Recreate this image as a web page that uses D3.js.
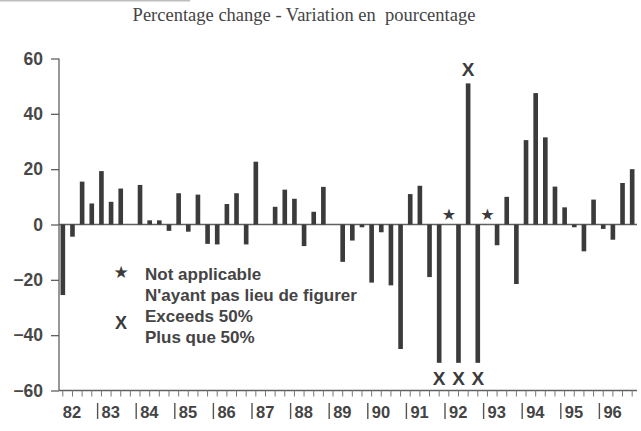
<!DOCTYPE html>
<html>
<head>
<meta charset="utf-8">
<script src="https://cdn.jsdelivr.net/npm/d3@7"></script>
<style>
  body { margin: 0; background: #fff; }
  svg { display: block; }
</style>
</head>
<body>
<svg id="chart" width="641" height="431"></svg>
<script>
// quarterly data 1982Q1 - 1996Q4
const years = ["82", "83", "84", "85", "86", "87", "88", "89", "90", "91", "92", "93", "94", "95", "96"];
const quarters = ["Q1", "Q2", "Q3", "Q4"];

// percentage change, null = not applicable
const values = [
  -25.5, -4.4, 15.5, 7.6,
  19.3, 8.2, 13, 0,
  14.3, 1.5, 1.5, -2.3,
  11.3, -2.6, 10.8, -7,
  -7.2, 7.4, 11.3, -7.2,
  22.7, 0, 6.4, 12.6,
  9.3, -7.8, 4.6, 13.6,
  0, -13.5, -5.8, -1,
  -21, -2.8, -22, -45,
  11, 14, -19, -50,
  null, -50, 51, -50,
  null, -7.5, 10, -21.5,
  30.5, 47.5, 31.5, 13.7,
  6.2, -1, -9.7, 9,
  -1.6, -5.5, 15, 20
];

// bars that exceed 50% (drawn capped, flagged with an X)
const exceeds = [false, false, false, false,
  false, false, false, false,
  false, false, false, false,
  false, false, false, false,
  false, false, false, false,
  false, false, false, false,
  false, false, false, false,
  false, false, false, false,
  false, false, false, false,
  false, false, false, true,
  false, true, true, true,
  false, false, false, false,
  false, false, false, false,
  false, false, false, false,
  false, false, false, false];

const yTicks = [60, 40, 20, 0, -20, -40, -60];

const titleText = "Percentage change - Variation en\u00a0 pourcentage";
const legendItems = [
  { sym: "\u2605", lines: ["Not applicable", "N'ayant pas lieu de figurer"] },
  { sym: "X", lines: ["Exceeds 50%", "Plus que 50%"] }
];

const data = [];
years.forEach((y, i) => quarters.forEach((q, j) => {
  const k = i * 4 + j;
  data.push({ key: y + q, year: y, q: j, value: values[k], over: exceeds[k] });
}));

const svg = d3.select("#chart");
const ink = "#3b3b3b";
const lineCol = "#606060";

const x = d3.scaleBand()
  .domain(data.map(d => d.key))
  .range([58, 637])
  .paddingInner(0.52)
  .paddingOuter(0.26);

const y = d3.scaleLinear()
  .domain([-60, 60])
  .range([390.5, 58.5]);

const left = 59;
const right = 637;

// scan edge artifact at the very top
svg.append("line")
  .attr("x1", 0).attr("x2", 190)
  .attr("y1", 0.5).attr("y2", 0.5)
  .attr("stroke", "#bdbdbd").attr("stroke-width", 2);

// title
svg.append("text")
  .attr("x", 304).attr("y", 21)
  .attr("text-anchor", "middle")
  .attr("font-family", "Liberation Serif, Times New Roman, serif")
  .attr("font-size", 18.5)
  .attr("fill", "#444")
  .text(titleText);

// y axis
const yAxis = d3.axisLeft(y).tickValues(yTicks).tickSize(8).tickPadding(8);
const gy = svg.append("g")
  .attr("transform", `translate(${left},0)`)
  .call(yAxis);
gy.select(".domain").attr("stroke", lineCol).attr("stroke-width", 1.3)
  .attr("d", `M0,${y(60)}V${y(-60)}`);
gy.selectAll(".tick line").attr("stroke", lineCol).attr("stroke-width", 1.3);
gy.selectAll(".tick text")
  .attr("font-family", "Liberation Sans, Arial, sans-serif")
  .attr("font-weight", "bold")
  .attr("font-size", 17.5)
  .attr("fill", "#484848");

// x axis with a tick per quarter
const xAxis = d3.axisBottom(x).tickSize(6).tickFormat("");
const gx = svg.append("g")
  .attr("transform", `translate(0,${y(-60)})`)
  .call(xAxis);
gx.select(".domain").attr("stroke", lineCol).attr("stroke-width", 1.3)
  .attr("d", `M${left},0H${right}`);
gx.selectAll(".tick line").attr("stroke", "#777").attr("stroke-width", 1);

// zero line
svg.append("line")
  .attr("x1", left).attr("x2", right)
  .attr("y1", y(0)).attr("y2", y(0))
  .attr("stroke", lineCol).attr("stroke-width", 1.3);

// bars
svg.append("g").selectAll("rect")
  .data(data.filter(d => d.value !== null))
  .join("rect")
  .attr("x", d => x(d.key))
  .attr("width", x.bandwidth())
  .attr("y", d => y(Math.max(0, d.value)))
  .attr("height", d => Math.abs(y(d.value) - y(0)))
  .attr("fill", ink);

// X markers for bars exceeding 50%
svg.append("g").selectAll("text")
  .data(data.filter(d => d.over))
  .join("text")
  .attr("x", d => x(d.key) + x.bandwidth() / 2)
  .attr("y", d => d.value > 0 ? y(d.value) - 7 : y(d.value) + 22)
  .attr("text-anchor", "middle")
  .attr("font-family", "Liberation Sans, Arial, sans-serif")
  .attr("font-weight", "bold")
  .attr("font-size", 19)
  .attr("fill", ink)
  .text("X");

// stars for not applicable
svg.append("g").selectAll("text")
  .data(data.filter(d => d.value === null))
  .join("text")
  .attr("x", d => x(d.key) + x.bandwidth() / 2)
  .attr("y", y(0) - 5)
  .attr("text-anchor", "middle")
  .attr("font-family", "DejaVu Sans, sans-serif")
  .attr("font-size", 16)
  .attr("fill", ink)
  .text("\u2605");

// year labels with separators
const step = x.step();
years.forEach((yr, i) => {
  const first = x(yr + "Q1") + x.bandwidth() / 2;
  const boundary = first - step / 2;
  const g = svg.append("g")
    .attr("font-family", "Liberation Sans, Arial, sans-serif")
    .attr("font-weight", "bold")
    .attr("font-size", 16.5)
    .attr("fill", "#444");
  if (i > 0) {
    g.append("line")
      .attr("x1", boundary + 1).attr("x2", boundary + 1)
      .attr("y1", 403).attr("y2", 419)
      .attr("stroke", "#555").attr("stroke-width", 1.4);
  }
  g.append("text")
    .attr("x", i > 0 ? boundary + 5 : first)
    .attr("y", 418)
    .text(yr);
});

// legend
const legend = svg.append("g")
  .attr("font-family", "Liberation Sans, Arial, sans-serif")
  .attr("font-weight", "bold")
  .attr("fill", "#444");
legendItems.forEach((item, i) => {
  const by = 280 + i * 42;
  legend.append("text")
    .attr("x", 121).attr("y", item.sym === "X" ? by + 7 : by - 2)
    .attr("text-anchor", "middle")
    .attr("font-family", item.sym === "X" ? "Liberation Sans, Arial, sans-serif" : "DejaVu Sans, sans-serif")
    .attr("font-size", item.sym === "X" ? 18 : 17)
    .attr("fill", ink)
    .text(item.sym);
  item.lines.forEach((t, j) => {
    legend.append("text")
      .attr("x", 145).attr("y", by + j * 21)
      .attr("font-size", 17)
      .text(t);
  });
});
</script>
</body>
</html>
